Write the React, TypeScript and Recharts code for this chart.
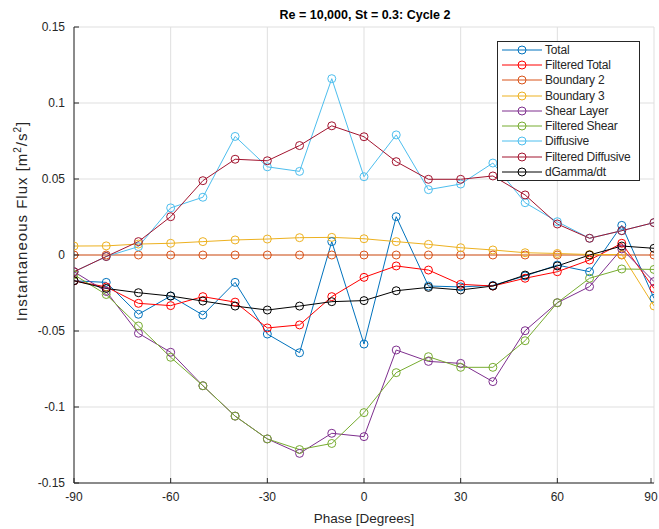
import { LineChart, Line, XAxis, YAxis, CartesianGrid, Legend, Label } from 'recharts';

const phase = [-90, -80, -70, -60, -50, -40, -30, -20, -10, 0, 10, 20, 30, 40, 50, 60, 70, 80, 90];

const total = [-0.017, -0.018, -0.039, -0.027, -0.0395, -0.018, -0.052, -0.0643, 0.0088, -0.0586, 0.0252, -0.0204, -0.021, -0.02, -0.0138, -0.0066, -0.011, 0.0195, -0.0285];
const filteredTotal = [-0.017, -0.021, -0.0318, -0.0333, -0.0274, -0.031, -0.048, -0.046, -0.0274, -0.0147, -0.0072, -0.0099, -0.0193, -0.0204, -0.0153, -0.011, -0.0033, 0.0077, -0.022];
const boundary2 = [0, 0, 0, 0, 0, 0, 0, 0, 0, 0, 0, 0, 0, 0, 0, 0, 0, 0, 0];
const boundary3 = [0.0059, 0.006, 0.0072, 0.0077, 0.0088, 0.0099, 0.0105, 0.0114, 0.0116, 0.0107, 0.0088, 0.007, 0.0048, 0.0033, 0.0015, 0.001, 0.0003, 0.0003, -0.0335];
const shearLayer = [-0.011, -0.024, -0.0515, -0.064, -0.086, -0.106, -0.121, -0.1305, -0.1173, -0.1195, -0.0625, -0.07, -0.0713, -0.0833, -0.0498, -0.0314, -0.0208, 0.004, -0.0175];
const filteredShear = [-0.013, -0.026, -0.0467, -0.0673, -0.086, -0.106, -0.121, -0.128, -0.124, -0.1037, -0.0774, -0.0669, -0.0739, -0.0739, -0.0564, -0.0314, -0.0153, -0.0092, -0.0095];
const diffusive = [-0.011, -0.001, 0.0055, 0.031, 0.038, 0.078, 0.058, 0.055, 0.116, 0.0515, 0.079, 0.043, 0.0467, 0.0605, 0.0344, 0.0219, 0.011, 0.016, 0.0213];
const filteredDiffusive = [-0.011, -0.001, 0.0088, 0.0252, 0.0489, 0.063, 0.062, 0.072, 0.085, 0.0778, 0.0614, 0.0498, 0.0498, 0.052, 0.0395, 0.0204, 0.011, 0.016, 0.0213];
const dGammaDt = [-0.0169, -0.022, -0.0248, -0.027, -0.0303, -0.0336, -0.0362, -0.0336, -0.0307, -0.03, -0.0235, -0.0213, -0.023, -0.0204, -0.0132, -0.0072, 0, 0.0059, 0.0044];

const xTicks = [-90, -60, -30, 0, 30, 60, 90];
const yTicks = [-0.15, -0.1, -0.05, 0, 0.05, 0.1, 0.15];

// series in MATLAB plot order (later ones drawn on top)
const SERIES = [
    { key: 'total', name: 'Total', values: total, color: '#0072BD' },
    { key: 'filteredTotal', name: 'Filtered Total', values: filteredTotal, color: '#FF0000' },
    { key: 'boundary2', name: 'Boundary 2', values: boundary2, color: '#D95319' },
    { key: 'boundary3', name: 'Boundary 3', values: boundary3, color: '#EDB120' },
    { key: 'shearLayer', name: 'Shear Layer', values: shearLayer, color: '#7E2F8E' },
    { key: 'filteredShear', name: 'Filtered Shear', values: filteredShear, color: '#77AC30' },
    { key: 'diffusive', name: 'Diffusive', values: diffusive, color: '#4DBEEE' },
    { key: 'filteredDiffusive', name: 'Filtered Diffusive', values: filteredDiffusive, color: '#A2142F' },
    { key: 'dGammaDt', name: 'dGamma/dt', values: dGammaDt, color: '#000000' }
];

const data = phase.map((p, i) => {
    const row: Record<string, number> = { phase: p };
    SERIES.forEach(s => { row[s.key] = s.values[i]; });
    return row;
});

const FONT = '"Liberation Sans", Arial, Helvetica, sans-serif';
const AXIS = '#262626';
const TICK_SIZE = 5;
const TICK_MARGIN = 4;
const GAP = TICK_SIZE + TICK_MARGIN;
const IN = 5; // inward tick length

const fmtY = (v: number) => String(Number(v.toFixed(2)));

const BottomTick = ({ x, y, payload }: any) => (
    <g>
        <line x1={x} x2={x} y1={y - GAP} y2={y - GAP - IN} stroke={AXIS} />
        <text x={x} y={y} dy="0.75em" textAnchor="middle" fontSize={12} fill={AXIS} fontFamily={FONT}>{payload.value}</text>
    </g>
);

const LeftTick = ({ x, y, payload }: any) => (
    <g>
        <line x1={x + GAP} x2={x + GAP + IN} y1={y} y2={y} stroke={AXIS} />
        <text x={x} y={y} dy="0.36em" textAnchor="end" fontSize={12} fill={AXIS} fontFamily={FONT}>{fmtY(payload.value)}</text>
    </g>
);

const TopTick = ({ x, y }: any) => (
    <line x1={x} x2={x} y1={y + GAP} y2={y + GAP + IN} stroke={AXIS} />
);

const RightTick = ({ x, y }: any) => (
    <line x1={x - GAP} x2={x - GAP - IN} y1={y} y2={y} stroke={AXIS} />
);

const LegendBox = () => (
    <div style={{ border: '1px solid #262626', background: '#fff', padding: 0, width: 143, boxSizing: 'border-box' }}>
        {SERIES.map(s => (
            <div key={s.key} style={{ display: 'flex', alignItems: 'center', height: 15.3 }}>
                <svg width={47} height={12}>
                    <line x1={4} x2={44} y1={6} y2={6} stroke={s.color} strokeWidth={1} />
                    <circle cx={24} cy={6} r={4} fill="none" stroke={s.color} />
                </svg>
                <span style={{ fontFamily: FONT, fontSize: 12, color: AXIS, letterSpacing: -0.2, whiteSpace: 'nowrap' }}>{s.name}</span>
            </div>
        ))}
    </div>
);

const YLabel = ({ viewBox }: any) => {
    const cx = viewBox.x + 27;
    const cy = viewBox.y + viewBox.height / 2 - 34;
    return (
        <text x={cx} y={cy} transform={`rotate(-90, ${cx}, ${cy})`} textAnchor="middle" fontSize={15} letterSpacing={1} fill={AXIS} fontFamily={FONT}>
            Instantaneous Flux [m<tspan dy={-6} fontSize={10}>2</tspan><tspan dy={6}>/s</tspan><tspan dy={-6} fontSize={10}>2</tspan><tspan dy={6}>]</tspan>
        </text>
    );
};

export default function App() {
    return (
        <div style={{ position: 'absolute', left: 0, top: 0, width: 659, height: 529, background: '#fff' }}>
            <LineChart width={659} height={529} data={data} margin={{ top: 27, right: 5, bottom: 0, left: 0 }}>
                <CartesianGrid stroke="#dfdfdf" strokeDasharray="" />
                <XAxis
                    dataKey="phase"
                    type="number"
                    domain={[-90, 90]}
                    ticks={xTicks}
                    height={46}
                    stroke={AXIS}
                    tickLine={false}
                    tickSize={TICK_SIZE}
                    tickMargin={TICK_MARGIN}
                    tick={<BottomTick />}
                    allowDataOverflow
                >
                    <Label value="Phase [Degrees]" position="insideBottom" offset={6} fontSize={13.5} fill={AXIS} fontFamily={FONT} />
                </XAxis>
                <XAxis
                    xAxisId="top"
                    orientation="top"
                    dataKey="phase"
                    type="number"
                    domain={[-90, 90]}
                    ticks={xTicks}
                    height={0}
                    stroke={AXIS}
                    tickLine={false}
                    tickSize={TICK_SIZE}
                    tickMargin={TICK_MARGIN}
                    tick={<TopTick />}
                    allowDataOverflow
                />
                <YAxis
                    type="number"
                    domain={[-0.15, 0.15]}
                    ticks={yTicks}
                    width={74}
                    stroke={AXIS}
                    tickLine={false}
                    tickSize={TICK_SIZE}
                    tickMargin={TICK_MARGIN}
                    tick={<LeftTick />}
                    allowDataOverflow
                >
                    <Label content={<YLabel />} />
                </YAxis>
                <YAxis
                    yAxisId="right"
                    orientation="right"
                    type="number"
                    domain={[-0.15, 0.15]}
                    ticks={yTicks}
                    width={0}
                    stroke={AXIS}
                    tickLine={false}
                    tickSize={TICK_SIZE}
                    tickMargin={TICK_MARGIN}
                    tick={<RightTick />}
                    allowDataOverflow
                />
                {SERIES.map(s => (
                    <Line
                        key={s.key}
                        type="linear"
                        dataKey={s.key}
                        name={s.name}
                        stroke={s.color}
                        strokeWidth={1}
                        dot={{ r: 4, fill: 'none', stroke: s.color, strokeWidth: 1 }}
                        activeDot={false}
                        isAnimationActive={false}
                    />
                ))}
                <Legend
                    layout="vertical"
                    align="center"
                    verticalAlign="middle"
                    content={<LegendBox />}
                    wrapperStyle={{ left: 497, top: 41, width: 143 }}
                />
                <text x={365} y={19} textAnchor="middle" fontSize={12.5} fontWeight="bold" fill="#000" fontFamily={FONT}>
                    Re = 10,000, St = 0.3: Cycle 2
                </text>
            </LineChart>
        </div>
    );
}
